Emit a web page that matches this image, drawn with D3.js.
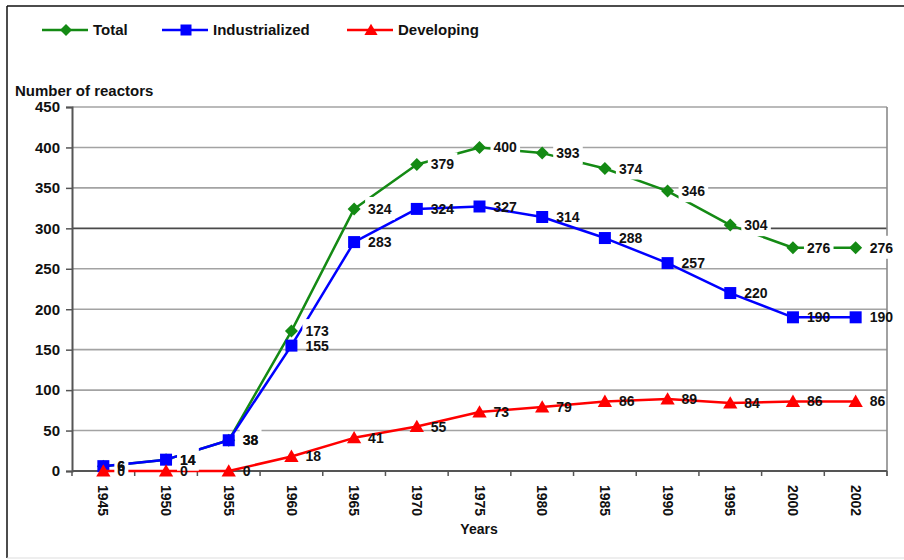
<!DOCTYPE html>
<html>
<head>
<meta charset="utf-8">
<script src="https://cdn.jsdelivr.net/npm/d3@7"></script>
<style>
  html, body { margin: 0; padding: 0; background: #fff; }
  svg { display: block; font-family: "Liberation Sans", Arial, sans-serif; font-weight: bold; }
</style>
</head>
<body>
<svg id="chart" width="904" height="560"></svg>
<script>
// Nuclear power reactors in operation, by group of countries
const years = ["1945", "1950", "1955", "1960", "1965", "1970", "1975", "1980", "1985", "1990", "1995", "2000", "2002"];
const total          = [6, 14, 38, 173, 324, 379, 400, 393, 374, 346, 304, 276, 276];
const industrialized = [6, 14, 38, 155, 283, 324, 327, 314, 288, 257, 220, 190, 190];
const developing     = [0, 0, 0, 18, 41, 55, 73, 79, 86, 89, 84, 86, 86];
const yTicks = [0, 50, 100, 150, 200, 250, 300, 350, 400, 450];

const seriesNames  = ["Total", "Industrialized", "Developing"];
const seriesColors = ["#148a14", "#0000ff", "#ff0000"];
const seriesShapes = ["diamond", "square", "triangle"];

const svg = d3.select("#chart");
const W = 904, H = 560;
const plot = { left: 72, right: 887, top: 107, bottom: 471 };

// outer frame
svg.append("line").attr("x1", 7).attr("y1", 6).attr("x2", W).attr("y2", 6)
  .attr("stroke", "#111").attr("stroke-width", 1.5);
svg.append("line").attr("x1", 7).attr("y1", 6).attr("x2", 7).attr("y2", 558)
  .attr("stroke", "#111").attr("stroke-width", 1.5);
svg.append("line").attr("x1", 7).attr("y1", 558).attr("x2", W).attr("y2", 558)
  .attr("stroke", "#ddd").attr("stroke-width", 1);

const x = d3.scaleBand().domain(years).range([plot.left, plot.right]).paddingInner(0).paddingOuter(0);
const cx = d => x(d) + x.bandwidth() / 2;
const y = d3.scaleLinear().domain([0, 450]).range([plot.bottom, plot.top]);

// horizontal gridlines
svg.append("g").selectAll("line").data(yTicks.filter(t => t > 0)).join("line")
  .attr("x1", plot.left).attr("x2", plot.right)
  .attr("y1", d => y(d)).attr("y2", d => y(d))
  .attr("stroke", d => d === 300 ? "#4a4a4a" : "#a3a3a3")
  .attr("stroke-width", 1.6);

// right border of plot area
svg.append("line").attr("x1", plot.right).attr("x2", plot.right)
  .attr("y1", plot.top).attr("y2", plot.bottom + 5)
  .attr("stroke", "#8a8a8a").attr("stroke-width", 1.6);

// y axis
const yAxis = svg.append("g").attr("transform", `translate(${plot.left},0)`)
  .call(d3.axisLeft(y).tickValues(yTicks).tickSize(6).tickPadding(6));
yAxis.select(".domain").attr("stroke", "#555").attr("stroke-width", 2);
yAxis.selectAll(".tick line").attr("stroke", "#555").attr("stroke-width", 1.5);
yAxis.selectAll(".tick text").attr("font-size", 15).attr("font-family", "Liberation Sans, Arial, sans-serif")
  .attr("font-weight", "bold").attr("fill", "#111");

// x axis: labels rotated, tick marks between categories
const xAxis = svg.append("g").attr("transform", `translate(0,${plot.bottom})`)
  .call(d3.axisBottom(x).tickSize(0).tickPadding(0));
xAxis.select(".domain").remove();
xAxis.selectAll(".tick text")
  .attr("transform", "rotate(90)")
  .attr("x", 14).attr("y", 0).attr("dy", "0.35em")
  .attr("text-anchor", "start")
  .attr("font-size", 14).attr("font-family", "Liberation Sans, Arial, sans-serif")
  .attr("font-weight", "bold").attr("fill", "#111");
svg.append("line").attr("x1", plot.left).attr("x2", plot.right)
  .attr("y1", plot.bottom).attr("y2", plot.bottom)
  .attr("stroke", "#555").attr("stroke-width", 2);
svg.append("g").selectAll("line").data(years.map(d => x(d)).concat([plot.right])).join("line")
  .attr("x1", d => d).attr("x2", d => d)
  .attr("y1", plot.bottom).attr("y2", plot.bottom + 5)
  .attr("stroke", "#555").attr("stroke-width", 1.5);

// axis titles
svg.append("text").attr("x", 15).attr("y", 96).attr("font-size", 15).attr("fill", "#111")
  .text("Number of reactors");
svg.append("text").attr("x", 479).attr("y", 534).attr("text-anchor", "middle")
  .attr("font-size", 14).attr("fill", "#111").text("Years");

// marker shapes
function markerPath(shape, s) {
  if (shape === "diamond") return `M0,${-s}L${s},0L0,${s}L${-s},0Z`;
  if (shape === "square") return `M${-s},${-s}H${s}V${s}H${-s}Z`;
  return `M0,${-s * 1.05}L${s * 1.1},${s * 0.85}L${-s * 1.1},${s * 0.85}Z`;
}
const markerSize = { diamond: 6.5, square: 6, triangle: 6.5 };

const allSeries = [total, industrialized, developing];
const line = d3.line().x((d, i) => cx(years[i])).y(d => y(d));

allSeries.forEach((vals, k) => {
  const g = svg.append("g");
  g.append("path").datum(vals).attr("d", line)
    .attr("fill", "none").attr("stroke", seriesColors[k]).attr("stroke-width", 2.5)
    .attr("stroke-linejoin", "round");
  g.selectAll("path.mk").data(vals).join("path").attr("class", "mk")
    .attr("transform", (d, i) => `translate(${cx(years[i])},${y(d)})`)
    .attr("d", markerPath(seriesShapes[k], markerSize[seriesShapes[k]]))
    .attr("fill", seriesColors[k]);
});

// data labels: Total labels sit on white boxes
function drawLabels(vals, boxed) {
  const g = svg.append("g");
  vals.forEach((v, i) => {
    const lx = cx(years[i]) + 14, ly = y(v);
    const t = g.append("text").attr("x", lx).attr("y", ly).attr("dy", "0.36em")
      .attr("font-size", 14).attr("fill", "#111").text(v);
    if (boxed) {
      const b = t.node().getBBox();
      g.insert("rect", () => t.node())
        .attr("x", b.x - 3).attr("y", b.y - 4).attr("width", b.width + 6).attr("height", b.height + 7)
        .attr("fill", "#fff");
    }
  });
}
drawLabels(total, true);
drawLabels(industrialized, false);
drawLabels(developing, false);

// legend
const legendX = [42, 162, 347];
const legend = svg.append("g");
seriesNames.forEach((name, k) => {
  const lg = legend.append("g").attr("transform", `translate(${legendX[k]},30)`);
  lg.append("line").attr("x1", 0).attr("x2", 46).attr("y1", 0).attr("y2", 0)
    .attr("stroke", seriesColors[k]).attr("stroke-width", 2.5);
  lg.append("path").attr("transform", "translate(24,0)")
    .attr("d", markerPath(seriesShapes[k], seriesShapes[k] === "square" ? 5.5 : 6))
    .attr("fill", seriesColors[k]);
  lg.append("text").attr("x", 51).attr("y", 0).attr("dy", "0.36em")
    .attr("font-size", 15).attr("fill", "#111").text(name);
});
</script>
</body>
</html>
